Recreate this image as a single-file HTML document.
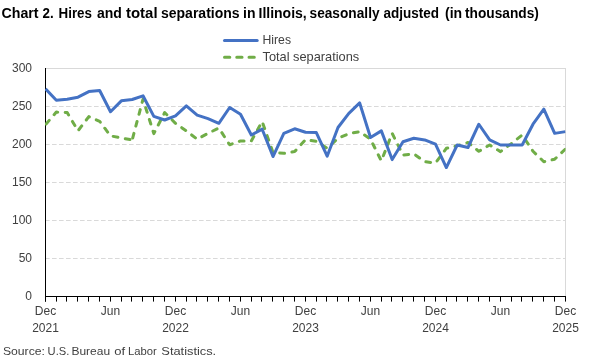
<!DOCTYPE html>
<html><head><meta charset="utf-8"><style>
html,body{margin:0;padding:0;background:#fff;width:600px;height:360px;overflow:hidden}
svg{display:block;will-change:transform}
text{font-family:"Liberation Sans",sans-serif}
</style></head><body>
<svg width="600" height="360" viewBox="0 0 600 360">
<g font-size="14" font-weight="bold" fill="#000"><text transform="translate(1.49,18) scale(1.0143,1)">Chart</text><text transform="translate(42.50,18) scale(0.9545,1)">2.</text><text transform="translate(58.55,18) scale(0.9545,1)">Hires</text><text transform="translate(97.00,18) scale(1.0000,1)">and</text><text transform="translate(126.00,18) scale(1.0690,1)">total</text><text transform="translate(161.00,18) scale(1.0000,1)">separations</text><text transform="translate(243.00,18) scale(1.0000,1)">in</text><text transform="translate(258.50,18) scale(1.0000,1)">Illinois,</text><text transform="translate(309.52,18) scale(0.9786,1)">seasonally</text><text transform="translate(383.50,18) scale(0.9649,1)">adjusted</text><text transform="translate(445.00,18) scale(1.0000,1)">(in</text><text transform="translate(465.00,18) scale(0.9800,1)">thousands)</text></g>
<line x1="224.5" y1="40.5" x2="257.2" y2="40.5" stroke="#4472c4" stroke-width="3" stroke-linecap="round"/>
<text transform="translate(262.5,44.1) scale(0.955,1)" font-size="12.8" fill="#404040">Hires</text>
<line x1="224.5" y1="57.3" x2="254.5" y2="57.3" stroke="#70ad47" stroke-width="3" stroke-linecap="round" stroke-dasharray="5.3 6.95"/>
<text x="262.5" y="61.4" font-size="12.8" fill="#404040">Total separations</text>
<line x1="45" y1="68.5" x2="565.5" y2="68.5" stroke="#d9d9d9" stroke-width="1"/>
<line x1="565.5" y1="68" x2="565.5" y2="296" stroke="#d9d9d9" stroke-width="1"/>
<line x1="45" y1="258.5" x2="565" y2="258.5" stroke="#d9d9d9" stroke-width="1" stroke-dasharray="4.6 2.4"/>
<line x1="45" y1="220.5" x2="565" y2="220.5" stroke="#d9d9d9" stroke-width="1" stroke-dasharray="4.6 2.4"/>
<line x1="45" y1="182.5" x2="565" y2="182.5" stroke="#d9d9d9" stroke-width="1" stroke-dasharray="4.6 2.4"/>
<line x1="45" y1="144.5" x2="565" y2="144.5" stroke="#d9d9d9" stroke-width="1" stroke-dasharray="4.6 2.4"/>
<line x1="45" y1="106.5" x2="565" y2="106.5" stroke="#d9d9d9" stroke-width="1" stroke-dasharray="4.6 2.4"/>

<g font-size="12" fill="#404040">
<text x="32" y="300.3" text-anchor="end">0</text>
<text x="32" y="262.3" text-anchor="end">50</text>
<text x="32" y="224.3" text-anchor="end">100</text>
<text x="32" y="186.3" text-anchor="end">150</text>
<text x="32" y="148.3" text-anchor="end">200</text>
<text x="32" y="110.3" text-anchor="end">250</text>
<text x="32" y="72.3" text-anchor="end">300</text>

<text x="45.50" y="314.7" text-anchor="middle">Dec</text>
<text x="45.50" y="331.7" text-anchor="middle">2021</text>
<text x="110.50" y="314.7" text-anchor="middle">Jun</text>
<text x="175.50" y="314.7" text-anchor="middle">Dec</text>
<text x="175.50" y="331.7" text-anchor="middle">2022</text>
<text x="240.50" y="314.7" text-anchor="middle">Jun</text>
<text x="305.50" y="314.7" text-anchor="middle">Dec</text>
<text x="305.50" y="331.7" text-anchor="middle">2023</text>
<text x="370.50" y="314.7" text-anchor="middle">Jun</text>
<text x="435.50" y="314.7" text-anchor="middle">Dec</text>
<text x="435.50" y="331.7" text-anchor="middle">2024</text>
<text x="500.50" y="314.7" text-anchor="middle">Jun</text>
<text x="565.50" y="314.7" text-anchor="middle">Dec</text>
<text x="565.50" y="331.7" text-anchor="middle">2025</text>

</g>
<line x1="45.5" y1="68" x2="45.5" y2="301.6" stroke="#000" stroke-width="1.05"/>
<line x1="45" y1="296.5" x2="566" y2="296.5" stroke="#000" stroke-width="1.05"/>
<line x1="45.50" y1="296" x2="45.50" y2="301.6" stroke="#000" stroke-width="1"/>
<line x1="56.50" y1="296" x2="56.50" y2="301.6" stroke="#000" stroke-width="1"/>
<line x1="66.50" y1="296" x2="66.50" y2="301.6" stroke="#000" stroke-width="1"/>
<line x1="77.50" y1="296" x2="77.50" y2="301.6" stroke="#000" stroke-width="1"/>
<line x1="88.50" y1="296" x2="88.50" y2="301.6" stroke="#000" stroke-width="1"/>
<line x1="99.50" y1="296" x2="99.50" y2="301.6" stroke="#000" stroke-width="1"/>
<line x1="110.50" y1="296" x2="110.50" y2="301.6" stroke="#000" stroke-width="1"/>
<line x1="121.50" y1="296" x2="121.50" y2="301.6" stroke="#000" stroke-width="1"/>
<line x1="131.50" y1="296" x2="131.50" y2="301.6" stroke="#000" stroke-width="1"/>
<line x1="142.50" y1="296" x2="142.50" y2="301.6" stroke="#000" stroke-width="1"/>
<line x1="153.50" y1="296" x2="153.50" y2="301.6" stroke="#000" stroke-width="1"/>
<line x1="164.50" y1="296" x2="164.50" y2="301.6" stroke="#000" stroke-width="1"/>
<line x1="175.50" y1="296" x2="175.50" y2="301.6" stroke="#000" stroke-width="1"/>
<line x1="186.50" y1="296" x2="186.50" y2="301.6" stroke="#000" stroke-width="1"/>
<line x1="196.50" y1="296" x2="196.50" y2="301.6" stroke="#000" stroke-width="1"/>
<line x1="207.50" y1="296" x2="207.50" y2="301.6" stroke="#000" stroke-width="1"/>
<line x1="218.50" y1="296" x2="218.50" y2="301.6" stroke="#000" stroke-width="1"/>
<line x1="229.50" y1="296" x2="229.50" y2="301.6" stroke="#000" stroke-width="1"/>
<line x1="240.50" y1="296" x2="240.50" y2="301.6" stroke="#000" stroke-width="1"/>
<line x1="251.50" y1="296" x2="251.50" y2="301.6" stroke="#000" stroke-width="1"/>
<line x1="261.50" y1="296" x2="261.50" y2="301.6" stroke="#000" stroke-width="1"/>
<line x1="272.50" y1="296" x2="272.50" y2="301.6" stroke="#000" stroke-width="1"/>
<line x1="283.50" y1="296" x2="283.50" y2="301.6" stroke="#000" stroke-width="1"/>
<line x1="294.50" y1="296" x2="294.50" y2="301.6" stroke="#000" stroke-width="1"/>
<line x1="305.50" y1="296" x2="305.50" y2="301.6" stroke="#000" stroke-width="1"/>
<line x1="316.50" y1="296" x2="316.50" y2="301.6" stroke="#000" stroke-width="1"/>
<line x1="326.50" y1="296" x2="326.50" y2="301.6" stroke="#000" stroke-width="1"/>
<line x1="337.50" y1="296" x2="337.50" y2="301.6" stroke="#000" stroke-width="1"/>
<line x1="348.50" y1="296" x2="348.50" y2="301.6" stroke="#000" stroke-width="1"/>
<line x1="359.50" y1="296" x2="359.50" y2="301.6" stroke="#000" stroke-width="1"/>
<line x1="370.50" y1="296" x2="370.50" y2="301.6" stroke="#000" stroke-width="1"/>
<line x1="381.50" y1="296" x2="381.50" y2="301.6" stroke="#000" stroke-width="1"/>
<line x1="391.50" y1="296" x2="391.50" y2="301.6" stroke="#000" stroke-width="1"/>
<line x1="402.50" y1="296" x2="402.50" y2="301.6" stroke="#000" stroke-width="1"/>
<line x1="413.50" y1="296" x2="413.50" y2="301.6" stroke="#000" stroke-width="1"/>
<line x1="424.50" y1="296" x2="424.50" y2="301.6" stroke="#000" stroke-width="1"/>
<line x1="435.50" y1="296" x2="435.50" y2="301.6" stroke="#000" stroke-width="1"/>
<line x1="446.50" y1="296" x2="446.50" y2="301.6" stroke="#000" stroke-width="1"/>
<line x1="456.50" y1="296" x2="456.50" y2="301.6" stroke="#000" stroke-width="1"/>
<line x1="467.50" y1="296" x2="467.50" y2="301.6" stroke="#000" stroke-width="1"/>
<line x1="478.50" y1="296" x2="478.50" y2="301.6" stroke="#000" stroke-width="1"/>
<line x1="489.50" y1="296" x2="489.50" y2="301.6" stroke="#000" stroke-width="1"/>
<line x1="500.50" y1="296" x2="500.50" y2="301.6" stroke="#000" stroke-width="1"/>
<line x1="511.50" y1="296" x2="511.50" y2="301.6" stroke="#000" stroke-width="1"/>
<line x1="521.50" y1="296" x2="521.50" y2="301.6" stroke="#000" stroke-width="1"/>
<line x1="532.50" y1="296" x2="532.50" y2="301.6" stroke="#000" stroke-width="1"/>
<line x1="543.50" y1="296" x2="543.50" y2="301.6" stroke="#000" stroke-width="1"/>
<line x1="554.50" y1="296" x2="554.50" y2="301.6" stroke="#000" stroke-width="1"/>
<line x1="565.50" y1="296" x2="565.50" y2="301.6" stroke="#000" stroke-width="1"/>

<clipPath id="pc"><rect x="45" y="60" width="520.5" height="240"/></clipPath>
<g clip-path="url(#pc)">
<path d="M45.50,124.70 L56.33,112.08 L67.17,112.54 L78.00,130.85 L88.83,116.64 L99.67,121.35 L110.50,135.87 L121.33,138.00 L132.17,139.97" fill="none" stroke="#70ad47" stroke-width="3" stroke-linecap="round" stroke-linejoin="round" stroke-dasharray="4.8 7.50" stroke-dashoffset="11.40"/>
<path d="M132.17,139.97 L143.00,99.16 L153.83,133.66 L164.67,112.54 L175.50,123.33 L186.33,130.85 L197.17,139.21 L208.00,133.36 L218.83,128.04 L229.67,144.76 L240.50,140.96 L251.33,140.96 L262.17,121.58 L273.00,152.51 L283.83,153.35 L294.67,151.60 L305.50,139.67 L316.33,141.34 L327.17,148.18 L338.00,138.30 L348.83,133.66 L359.67,131.69 L370.50,139.21 L381.33,160.87 L392.17,133.36 L403.00,155.02 L413.83,153.88 L424.67,161.71 L435.50,163.00 L446.33,148.33 L457.17,145.82 L468.00,142.48 L478.83,151.30 L489.67,144.99 L500.50,151.60 L511.33,143.62 L522.17,135.03 L533.00,151.22 L543.83,161.71 L554.67,159.20 L565.50,148.94" fill="none" stroke="#70ad47" stroke-width="3" stroke-linecap="round" stroke-linejoin="round" stroke-dasharray="4.8 7.50" stroke-dashoffset="10.30"/>
<path d="M45.50,88.90 L56.33,100.30 L67.17,99.16 L78.00,97.18 L88.83,91.56 L99.67,90.50 L110.50,111.70 L121.33,100.83 L132.17,99.54 L143.00,95.82 L153.83,116.34 L164.67,119.98 L175.50,115.88 L186.33,105.85 L197.17,115.12 L208.00,118.69 L218.83,123.33 L229.67,107.52 L240.50,114.21 L251.33,135.03 L262.17,129.18 L273.00,156.54 L283.83,133.36 L294.67,128.80 L305.50,132.22 L316.33,132.60 L327.17,156.16 L338.00,127.51 L348.83,113.30 L359.67,102.96 L370.50,137.46 L381.33,130.85 L392.17,159.58 L403.00,141.72 L413.83,138.30 L424.67,139.97 L435.50,144.15 L446.33,167.56 L457.17,144.99 L468.00,147.50 L478.83,124.24 L489.67,139.97 L500.50,144.99 L511.33,144.99 L522.17,144.99 L533.00,124.24 L543.83,109.19 L554.67,133.36 L565.50,131.61" fill="none" stroke="#4472c4" stroke-width="3" stroke-linecap="butt" stroke-linejoin="round"/>
</g>
<g font-size="11" fill="#404040"><text transform="translate(2.89,354.7) scale(1.1111,1)">Source:</text><text transform="translate(47.58,354.7) scale(1.0158,1)">U.S.</text><text transform="translate(71.41,354.7) scale(1.0912,1)">Bureau</text><text transform="translate(114.30,354.7) scale(1.1889,1)">of</text><text transform="translate(127.97,354.7) scale(1.0259,1)">Labor</text><text transform="translate(161.33,354.7) scale(1.1667,1)">Statistics.</text></g>
</svg>
</body></html>
